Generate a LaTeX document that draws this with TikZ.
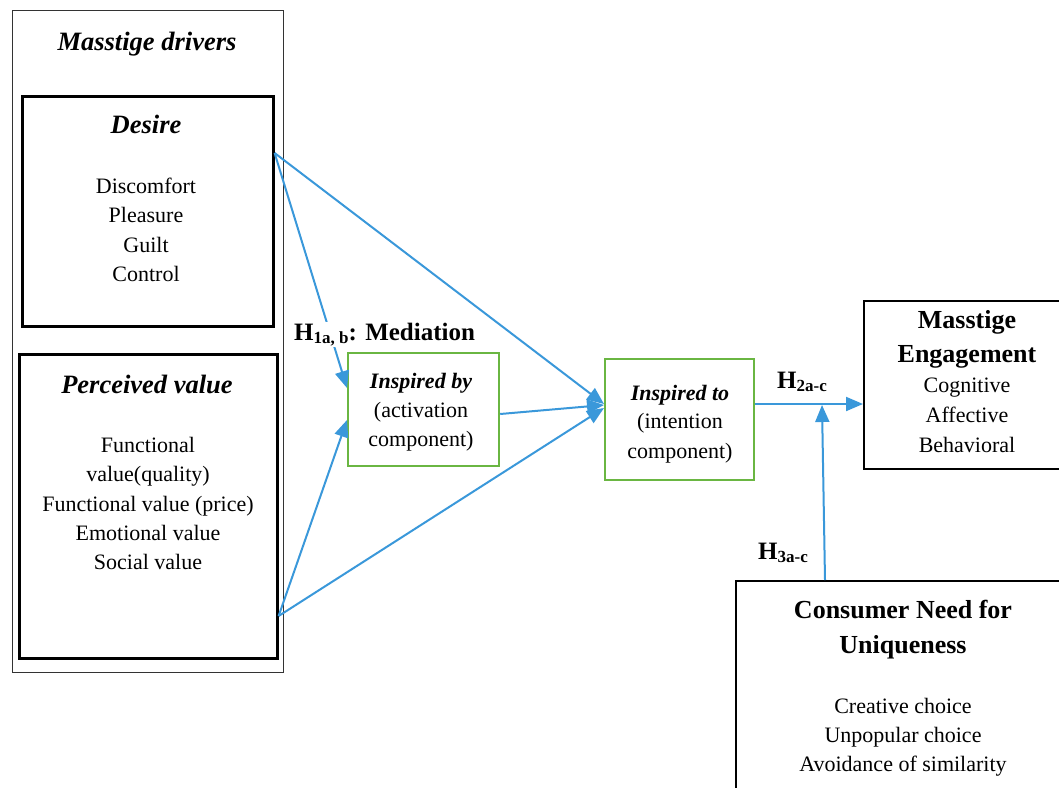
\documentclass[tikz,border=0pt]{standalone}
\usepackage{fontspec}
\setmainfont{Liberation Serif}
\usetikzlibrary{arrows.meta}
\definecolor{linkblue}{RGB}{58,152,218}
\definecolor{boxgreen}{RGB}{106,182,66}
\begin{document}
\begin{tikzpicture}[x=1pt,y=-1pt,
  outerbox/.style={draw=black!80, line width=1.3pt, inner sep=0pt, anchor=north west},
  blackbox/.style={draw=black, line width=2.6pt, inner sep=0pt, anchor=north west},
  plainbox/.style={draw=black, line width=2pt, inner sep=0pt, anchor=north west},
  greenbox/.style={draw=boxgreen, line width=2.2pt, inner sep=0pt, anchor=north west},
  itemtext/.style={anchor=base, inner sep=0pt, font=\fontsize{22}{26}\selectfont},
  titletext/.style={anchor=base, inner sep=0pt, font=\fontsize{26.5}{30}\selectfont\bfseries\itshape},
  headtext/.style={anchor=base, inner sep=0pt, font=\fontsize{26}{30}\selectfont\bfseries},
  smalltitle/.style={anchor=base, inner sep=0pt, font=\fontsize{22}{26}\selectfont\bfseries\itshape},
  hyplabel/.style={anchor=base west, inner sep=1pt, fill=white, font=\fontsize{25}{30}\selectfont\bfseries},
  link/.style={draw=linkblue, line width=2pt, -{Triangle[length=17pt,width=14pt]}}
]
\useasboundingbox (0,0) rectangle (1059,787);
\clip (0,0) rectangle (1059,787);

% drivers column
\node[outerbox, minimum width=271pt, minimum height=662pt] (drivers) at (12,10) {};
\node[titletext] (driversT) at (147,50) {Masstige drivers};

\node[blackbox, minimum width=251pt, minimum height=230pt] (desire) at (21,95) {};
\node[titletext] (desireT) at (146,133) {Desire};
\node[itemtext] (desire1) at (146,193) {Discomfort};
\node[itemtext] (desire2) at (146,222.5) {Pleasure};
\node[itemtext] (desire3) at (146,252) {Guilt};
\node[itemtext] (desire4) at (146,281.5) {Control};

\node[blackbox, minimum width=258pt, minimum height=304pt] (value) at (18,353) {};
\node[titletext] (valueT) at (147,393) {Perceived value};
\node[itemtext] (value1) at (148,452) {Functional};
\node[itemtext] (value2) at (148,481.5) {value(quality)};
\node[itemtext] (value3) at (148,511) {Functional value (price)};
\node[itemtext] (value4) at (148,540) {Emotional value};
\node[itemtext] (value5) at (148,569) {Social value};

% inspiration components
\node[greenbox, minimum width=151pt, minimum height=113pt] (iby) at (347,352) {};
\node[smalltitle] (ibyT) at (421,388) {Inspired by};
\node[itemtext] (iby1) at (421,417) {(activation};
\node[itemtext] (iby2) at (421,446.5) {component)};

\node[greenbox, minimum width=149pt, minimum height=121pt] (ito) at (604,358) {};
\node[smalltitle] (itoT) at (680,400) {Inspired to};
\node[itemtext] (ito1) at (680,428.5) {(intention};
\node[itemtext] (ito2) at (680,458) {component)};

% outcome
\node[plainbox, minimum width=210pt, minimum height=168pt] (meng) at (863,300) {};
\node[headtext] (mengT1) at (967,328) {Masstige};
\node[headtext] (mengT2) at (967,362) {Engagement};
\node[itemtext] (meng1) at (967,392.5) {Cognitive};
\node[itemtext] (meng2) at (967,422) {Affective};
\node[itemtext] (meng3) at (967,452) {Behavioral};

% moderator
\node[plainbox, minimum width=340pt, minimum height=230pt] (cnu) at (735,580) {};
\node[headtext] (cnuT1) at (903,618) {Consumer Need for};
\node[headtext] (cnuT2) at (903,653) {Uniqueness};
\node[itemtext] (cnu1) at (903,713) {Creative choice};
\node[itemtext] (cnu2) at (903,742) {Unpopular choice};
\node[itemtext] (cnu3) at (903,771.5) {Avoidance of similarity};

% paths
\coordinate (join) at (822,405);
\draw[link] ([yshift=-58pt]desire.north east) -- ([yshift=-36pt]iby.north west);
\draw[link] ([yshift=-58pt]desire.north east) -- ([yshift=-46pt]ito.north west);
\draw[link] ([yshift=-263pt]value.north east) -- ([yshift=-68pt]iby.north west);
\draw[link] ([yshift=-263pt]value.north east) -- ([yshift=-50pt]ito.north west);
\draw[link] ([yshift=-62pt]iby.north east) -- ([yshift=-47pt]ito.north west);
\draw[link] ([yshift=-46pt]ito.north east) -- ([yshift=-104pt]meng.north west);
\draw[link] ([xshift=90pt]cnu.north west) -- (join);

% hypothesis labels
\node[hyplabel] (h1) at (293,340) {H\raisebox{-3pt}{\fontsize{17}{20}\selectfont 1a, b}: Mediation};
\node[hyplabel] (h2) at (776,388) {H\raisebox{-3pt}{\fontsize{17}{20}\selectfont 2a-c}};
\node[hyplabel] (h3) at (757,559) {H\raisebox{-3pt}{\fontsize{17}{20}\selectfont 3a-c}};
\end{tikzpicture}
\end{document}
